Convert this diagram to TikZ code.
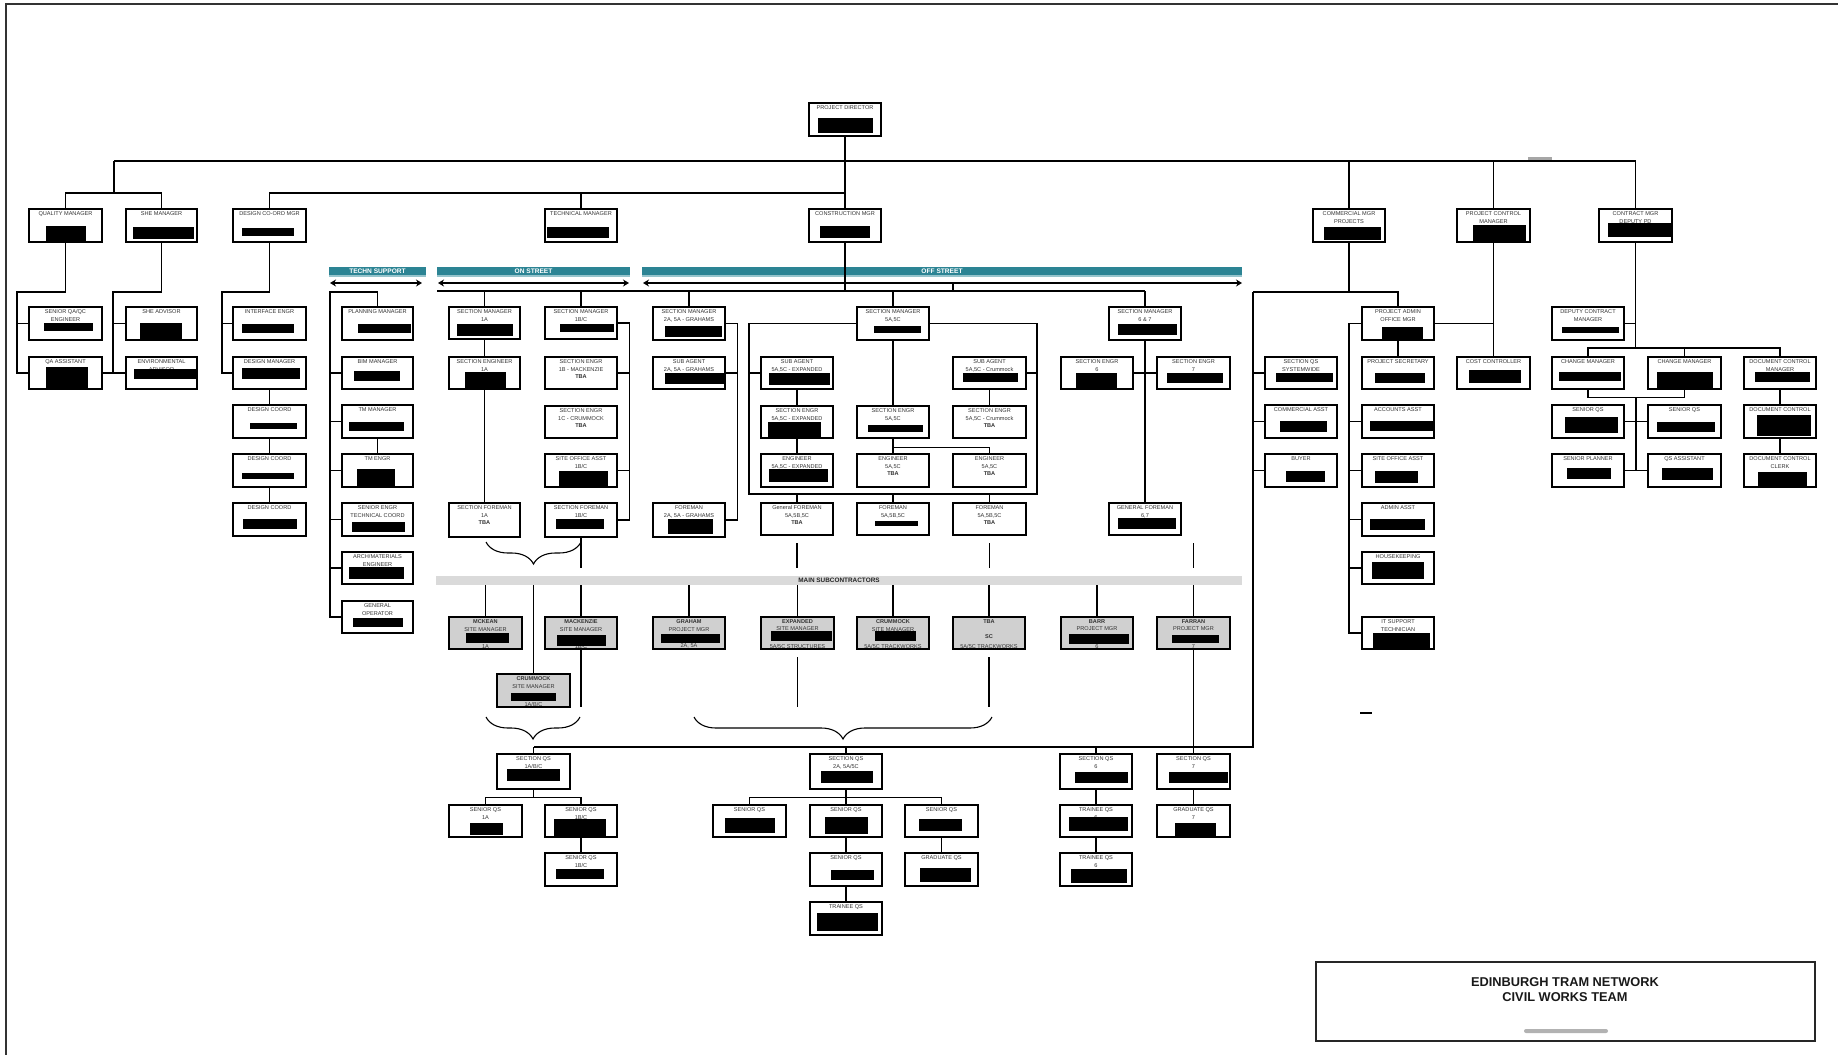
\documentclass[tikz,border=0pt]{standalone}
\usepackage{fontspec}
\setmainfont{Liberation Sans}
\usetikzlibrary{fit,arrows.meta,decorations.pathreplacing}
\definecolor{barteal}{RGB}{44,132,148}
\definecolor{barteallt}{RGB}{150,196,204}
\definecolor{subgray}{RGB}{208,208,208}
\definecolor{msgray}{RGB}{218,218,218}
\tikzset{
  obox/.style={draw=black, line width=0.7pt, fill=white, inner sep=0pt},
  sbox/.style={draw=black, line width=0.7pt, fill=subgray, inner sep=0pt},
  otxt/.style={font=\fontsize{2.8}{3.9}\selectfont, align=center, inner sep=0pt, text=black!80},
  conn/.style={line width=0.55pt, black},
  tealbar/.style={fill=barteal, inner sep=0pt},
  bartxt/.style={inner sep=0pt, text=white, font=\bfseries\fontsize{3.3}{4}\selectfont},
  subbar/.style={fill=msgray, inner sep=0pt},
  subtxt/.style={inner sep=0pt, text=black!85, font=\bfseries\fontsize{3.2}{4}\selectfont},
  dbl/.style={line width=0.6pt, {Stealth[length=3pt,width=3.5pt]}-{Stealth[length=3pt,width=3.5pt]}},
  curly/.style={line width=0.55pt, decorate, decoration={brace, amplitude=11pt}}
}
\newcommand\ob[6]{%
  \node[obox, fit={(#2,#3) (#4,#5)}] (#1) {};
  \node[otxt, anchor=north, yshift=-1.3pt] at (#1.north) {#6};}
\newcommand\sbx[7]{%
  \node[sbox, fit={(#2,#3) (#4,#5)}] (#1) {};
  \node[otxt, anchor=north, yshift=-1.3pt] at (#1.north) {#6};
  \node[otxt, anchor=south, yshift=0.4pt] at (#1.south) {#7};}
\newcommand\rd[4]{\fill[black] (#1,#2) rectangle (#3,#4);}
\begin{document}
\begin{tikzpicture}[x=0.5pt,y=-0.5pt]
\useasboundingbox (0,0) rectangle (1838,1055);
\fill[white] (0,0) rectangle (1838,1055);
% page frame
\draw[line width=0.8pt, black!80] (6,1055) -- (6,4) -- (1838,4);

% row coordinates
\coordinate (r161) at (0,161);
\coordinate (r193) at (0,193);
\coordinate (r568) at (0,568);
\coordinate (r707) at (0,707);
\coordinate (r657) at (0,657);

% ---------- bars ----------
\fill[barteallt] (329,274) rectangle (426,277);
\fill[barteallt] (437,274) rectangle (630,277);
\fill[barteallt] (642,274) rectangle (1242,277);
\node[tealbar, fit={(329,267) (426,275)}] (bts) {};
\node[tealbar, fit={(437,267) (630,275)}] (bon) {};
\node[tealbar, fit={(642,267) (1242,275)}] (bof) {};
\node[bartxt] at (bts.center) {TECHN SUPPORT};
\node[bartxt] at (bon.center) {ON STREET};
\node[bartxt] at (bof.center) {OFF STREET};
\draw[dbl] (330,283) -- (422,283);
\draw[dbl] (438,283) -- (629,283);
\draw[dbl] (643,283) -- (1242,283);
\node[subbar, fit={(436,576) (1242,585)}] (msb) {};
\node[subtxt] at (msb.center) {MAIN SUBCONTRACTORS};

% ---------- top ----------
\ob{pd}{809}{103}{881}{136}{PROJECT DIRECTOR} \rd{818}{118}{873}{133}
\ob{qm}{29}{209}{102}{242}{QUALITY MANAGER} \rd{46}{226}{86}{242}
\ob{sm}{126}{209}{197}{242}{SHE MANAGER} \rd{133}{227}{194}{239}
\ob{dgm}{233}{209}{306}{242}{DESIGN CO-ORD MGR} \rd{242}{228}{294}{236}
\ob{tmg}{545}{209}{617}{242}{TECHNICAL MANAGER} \rd{547}{227}{609}{238}
\ob{cm}{809}{209}{881}{242}{CONSTRUCTION MGR} \rd{820}{226}{870}{238}
\ob{com}{1313}{209}{1385}{242}{COMMERCIAL MGR\\PROJECTS} \rd{1324}{227}{1381}{240}
\ob{pcm}{1457}{209}{1530}{242}{PROJECT CONTROL\\MANAGER} \rd{1473}{225}{1526}{242}
\ob{cn}{1599}{209}{1672}{242}{CONTRACT MGR\\DEPUTY PD} \rd{1608}{223}{1671}{237}

% ---------- left groups ----------
\ob{qa1}{29}{307}{102}{340}{SENIOR QA/QC\\ENGINEER} \rd{44}{323}{93}{331}
\ob{qa2}{29}{357}{102}{389}{QA ASSISTANT} \rd{46}{367}{88}{389}
\ob{sa1}{126}{307}{197}{340}{SHE ADVISOR} \rd{140}{323}{182}{340}
\ob{sa2}{126}{357}{197}{389}{ENVIRONMENTAL\\ADVISOR} \rd{134}{369}{197}{379}
\ob{ie}{233}{307}{306}{340}{INTERFACE ENGR} \rd{242}{324}{294}{333}
\ob{dm}{233}{357}{306}{389}{DESIGN MANAGER} \rd{242}{368}{300}{379}
\ob{dc1}{233}{405}{306}{438}{DESIGN COORD} \rd{250}{423}{297}{429}
\ob{dc2}{233}{454}{306}{487}{DESIGN COORD} \rd{242}{473}{294}{479}
\ob{dc3}{233}{503}{306}{536}{DESIGN COORD} \rd{243}{519}{297}{529}

% ---------- techn support ----------
\ob{pl}{342}{307}{413}{340}{PLANNING MANAGER} \rd{358}{324}{411}{333}
\ob{bim}{342}{357}{413}{389}{BIM MANAGER} \rd{354}{371}{400}{381}
\ob{tmm}{342}{405}{413}{438}{TM MANAGER} \rd{349}{422}{404}{431}
\ob{tme}{342}{454}{413}{487}{TM ENGR} \rd{357}{469}{395}{487}
\ob{se}{342}{503}{413}{536}{SENIOR ENGR\\TECHNICAL COORD} \rd{352}{522}{405}{532}
\ob{ae}{342}{552}{413}{584}{ARCH/MATERIALS\\ENGINEER} \rd{349}{567}{404}{579}
\ob{go}{342}{601}{413}{633}{GENERAL\\OPERATOR} \rd{353}{618}{403}{627}

% ---------- on street ----------
\ob{s1m}{449}{307}{520}{339}{SECTION MANAGER\\1A} \rd{457}{324}{513}{336}
\ob{s1e}{449}{357}{520}{389}{SECTION ENGINEER\\1A} \rd{465}{372}{506}{389}
\ob{s1f}{449}{503}{520}{537}{SECTION FOREMAN\\1A\\\textbf{TBA}}
\ob{s1bm}{545}{307}{617}{339}{SECTION MANAGER\\1B/C} \rd{560}{324}{614}{332}
\ob{s1be}{545}{357}{617}{389}{SECTION ENGR\\1B - MACKENZIE\\\textbf{TBA}}
\ob{s1ce}{545}{406}{617}{438}{SECTION ENGR\\1C - CRUMMOCK\\\textbf{TBA}}
\ob{s1so}{545}{454}{617}{487}{SITE OFFICE ASST\\1B/C} \rd{559}{471}{608}{487}
\ob{s1bf}{545}{503}{617}{537}{SECTION FOREMAN\\1B/C} \rd{556}{519}{604}{529}

% ---------- off street ----------
\ob{s2m}{653}{307}{725}{340}{SECTION MANAGER\\2A, 5A - GRAHAMS} \rd{665}{326}{722}{337}
\ob{s2a}{653}{357}{725}{389}{SUB AGENT\\2A, 5A - GRAHAMS} \rd{665}{373}{724}{384}
\ob{s2f}{653}{503}{725}{537}{FOREMAN\\2A, 5A - GRAHAMS} \rd{668}{519}{713}{534}
\ob{s5m}{857}{307}{929}{340}{SECTION MANAGER\\5A,5C} \rd{874}{326}{921}{333}
\ob{xa}{761}{357}{833}{389}{SUB AGENT\\5A,5C - EXPANDED} \rd{769}{373}{830}{385}
\ob{xe}{761}{406}{833}{438}{SECTION ENGR\\5A,5C - EXPANDED} \rd{768}{422}{821}{438}
\ob{xg}{761}{454}{833}{487}{ENGINEER\\5A,5C - EXPANDED} \rd{769}{469}{828}{482}
\ob{me}{857}{406}{929}{438}{SECTION ENGR\\5A,5C} \rd{868}{425}{923}{432}
\ob{mg}{857}{454}{929}{487}{ENGINEER\\5A,5C\\\textbf{TBA}}
\ob{rg}{953}{454}{1026}{487}{ENGINEER\\5A,5C\\\textbf{TBA}}
\ob{ca}{953}{357}{1026}{389}{SUB AGENT\\5A,5C - Crummock} \rd{963}{373}{1018}{382}
\ob{ce}{953}{406}{1026}{438}{SECTION ENGR\\5A,5C - Crummock\\\textbf{TBA}}
\ob{gf}{761}{503}{833}{535}{General FOREMAN\\5A,5B,5C\\\textbf{TBA}}
\ob{f2}{857}{503}{929}{535}{FOREMAN\\5A,5B,5C} \rd{875}{521}{918}{526}
\ob{f3}{953}{503}{1026}{535}{FOREMAN\\5A,5B,5C\\\textbf{TBA}}
\ob{s6m}{1109}{307}{1181}{340}{SECTION MANAGER\\6 \& 7} \rd{1118}{324}{1177}{335}
\ob{s6e}{1061}{357}{1133}{389}{SECTION ENGR\\6} \rd{1076}{373}{1117}{388}
\ob{s7e}{1157}{357}{1230}{389}{SECTION ENGR\\7} \rd{1167}{373}{1223}{383}
\ob{gf67}{1109}{503}{1181}{535}{GENERAL FOREMAN\\6,7} \rd{1118}{518}{1176}{529}

% ---------- right groups ----------
\ob{pa}{1362}{307}{1434}{340}{PROJECT ADMIN\\OFFICE MGR} \rd{1382}{327}{1423}{339}
\ob{ps}{1362}{357}{1434}{389}{PROJECT SECRETARY} \rd{1375}{373}{1425}{383}
\ob{cc}{1457}{357}{1530}{389}{COST CONTROLLER} \rd{1469}{370}{1521}{383}
\ob{sqs}{1265}{357}{1337}{389}{SECTION QS\\SYSTEMWIDE} \rd{1276}{373}{1333}{382}
\ob{cas}{1265}{405}{1337}{438}{COMMERCIAL ASST} \rd{1280}{421}{1327}{432}
\ob{buy}{1265}{454}{1337}{487}{BUYER} \rd{1286}{471}{1325}{482}
\ob{aa}{1362}{405}{1434}{438}{ACCOUNTS ASST} \rd{1370}{421}{1433}{431}
\ob{soa}{1362}{454}{1434}{487}{SITE OFFICE ASST} \rd{1375}{471}{1418}{483}
\ob{ad}{1362}{503}{1434}{536}{ADMIN ASST} \rd{1370}{519}{1425}{530}
\ob{hk}{1362}{552}{1434}{584}{HOUSEKEEPING} \rd{1372}{562}{1424}{579}
\ob{it}{1362}{617}{1434}{649}{IT SUPPORT\\TECHNICIAN} \rd{1373}{633}{1430}{649}
\ob{dpc}{1552}{307}{1624}{340}{DEPUTY CONTRACT\\MANAGER} \rd{1562}{327}{1619}{333}
\ob{ch1}{1552}{357}{1624}{389}{CHANGE MANAGER} \rd{1559}{372}{1621}{381}
\ob{ch2}{1648}{357}{1721}{389}{CHANGE MANAGER} \rd{1657}{372}{1713}{388}
\ob{dcmg}{1744}{357}{1816}{389}{DOCUMENT CONTROL\\MANAGER} \rd{1755}{372}{1810}{382}
\ob{sq1}{1552}{405}{1624}{438}{SENIOR QS} \rd{1565}{417}{1618}{433}
\ob{sq2}{1648}{405}{1721}{438}{SENIOR QS} \rd{1657}{422}{1715}{432}
\ob{sp}{1552}{454}{1624}{487}{SENIOR PLANNER} \rd{1567}{468}{1611}{479}
\ob{qsa}{1648}{454}{1721}{487}{QS ASSISTANT} \rd{1662}{468}{1713}{480}
\ob{dcg}{1744}{405}{1816}{438}{DOCUMENT CONTROL} \rd{1757}{415}{1811}{436}
\ob{dcc}{1744}{454}{1816}{487}{DOCUMENT CONTROL\\CLERK} \rd{1758}{472}{1807}{487}

% ---------- subcontractors ----------
\sbx{mk}{449}{617}{522}{649}{\textbf{MCKEAN}\\SITE MANAGER}{1A} \rd{466}{633}{509}{643}
\sbx{mz}{545}{617}{617}{649}{\textbf{MACKENZIE}\\SITE MANAGER}{1B/C} \rd{557}{635}{606}{646}
\sbx{gr}{653}{617}{725}{649}{\textbf{GRAHAM}\\PROJECT MGR}{2A, 5A} \rd{661}{634}{720}{643}
\sbx{ex}{761}{617}{834}{649}{\textbf{EXPANDED}\\SITE MANAGER}{5A/5C STRUCTURES} \rd{771}{631}{832}{641}
\sbx{cr}{857}{617}{929}{649}{\textbf{CRUMMOCK}\\SITE MANAGER}{5A/5C TRACKWORKS} \rd{875}{631}{916}{641}
\sbx{tb}{953}{617}{1025}{649}{\textbf{TBA}\\[3.9pt]\textbf{SC}}{5A/5C TRACKWORKS}
\sbx{br}{1061}{617}{1133}{649}{\textbf{BARR}\\PROJECT MGR}{6} \rd{1069}{634}{1129}{644}
\sbx{fr}{1157}{617}{1230}{649}{\textbf{FARRAN}\\PROJECT MGR}{7} \rd{1172}{635}{1219}{643}
\sbx{cr1}{497}{674}{570}{707}{\textbf{CRUMMOCK}\\SITE MANAGER}{1A/B/C} \rd{511}{693}{556}{701}

% ---------- quantity surveyors ----------
\ob{q1}{497}{754}{570}{789}{SECTION QS\\1A/B/C} \rd{507}{769}{560}{781}
\ob{q1a}{449}{805}{522}{837}{SENIOR QS\\1A} \rd{470}{823}{503}{835}
\ob{q1b}{545}{805}{617}{837}{SENIOR QS\\1B/C} \rd{554}{819}{606}{836}
\ob{q1c}{545}{853}{617}{886}{SENIOR QS\\1B/C} \rd{556}{869}{604}{879}
\ob{q25}{810}{754}{882}{789}{SECTION QS\\2A, 5A/5C} \rd{821}{771}{873}{783}
\ob{qa}{713}{805}{786}{837}{SENIOR QS} \rd{725}{818}{775}{833}
\ob{qb}{810}{805}{882}{837}{SENIOR QS} \rd{825}{817}{868}{834}
\ob{qc}{905}{805}{978}{837}{SENIOR QS} \rd{919}{819}{962}{831}
\ob{qd}{810}{853}{882}{886}{SENIOR QS} \rd{831}{870}{874}{880}
\ob{qt}{810}{902}{882}{935}{TRAINEE QS} \rd{817}{913}{878}{931}
\ob{qg}{905}{853}{978}{886}{GRADUATE QS} \rd{920}{868}{971}{882}
\ob{q6}{1060}{754}{1132}{789}{SECTION QS\\6} \rd{1075}{772}{1128}{783}
\ob{q7}{1157}{754}{1230}{789}{SECTION QS\\7} \rd{1169}{772}{1228}{783}
\ob{t6a}{1060}{805}{1132}{837}{TRAINEE QS\\6} \rd{1069}{817}{1128}{831}
\ob{t6b}{1060}{853}{1132}{886}{TRAINEE QS\\6} \rd{1071}{869}{1127}{883}
\ob{g7}{1157}{805}{1230}{837}{GRADUATE QS\\7} \rd{1175}{823}{1216}{837}

% ================= connectors =================
% top level
\coordinate (tbL) at (114,161);
\coordinate (tbR) at (1635.5,161);
\draw[conn] (tbL) -- (tbR);
\draw[conn] (pd.south) -- (cm.north);
\draw[conn] (tbL) -- (tbL |- r193);
\draw[conn] (qm.north) |- (sm.north |- r193) -- (sm.north);
\draw[conn] (dgm.north) |- (cm.north |- r193);
\draw[conn] (tmg.north) -- (tmg.north |- r193);
\draw[conn] (com.north) -- (com.north |- r161);
\draw[conn] (pcm.north) -- (pcm.north |- r161);
\draw[conn] (cn.north) -- (tbR);
\fill[black!35] (1528,157) rectangle (1552,160);

% quality / she / design
\coordinate (qbus) at (17,292);
\draw[conn] (qm.south) |- (qbus) |- (qa2.west);
\draw[conn] (qbus) |- (qa1.west);
\coordinate (sbus) at (113,292);
\draw[conn] (sm.south) |- (sbus) |- (sa2.west);
\draw[conn] (sbus) |- (sa1.west);
\draw[conn] (qa2.east) -- (sa2.west);
\coordinate (dbus) at (222,292);
\draw[conn] (dgm.south) |- (dbus) |- (dm.west);
\draw[conn] (dbus) |- (ie.west);
\draw[conn] (dm.south) -- (dc1.north);
\draw[conn] (dc1.south) -- (dc2.north);
\draw[conn] (dc2.south) -- (dc3.north);

% techn support
\coordinate (tbus) at (330,292);
\draw[conn] (pl.north) |- (tbus) |- (go.west);
\foreach \n in {bim,tmm,tme,se,ae} \draw[conn] (tbus) |- (\n.west);
\draw[conn] (tmm.south) -- (tme.north);

% on / off street bus
\coordinate (obL) at (437,291);
\coordinate (obR) at (1145,291);
\draw[conn] (obL) -- (obR);
\draw[conn] (cm.south) -- (cm.south |- obL);
\coordinate (tk1) at (953,283);
\draw[conn] (tk1) -- (tk1 |- obL);
\foreach \n in {s1m,s1bm,s2m,s5m,s6m} \draw[conn] (\n.north) -- (\n.north |- obL);
\draw[conn] (s1m.south) -- (s1e.north);
\draw[conn] (s1e.south) -- (s1f.north);
\draw[conn] (s1bm.east) -- ++(12,0) |- (s1bf.east);
\draw[conn] (s1be.east) -- ++(12,0);
\draw[conn] (s1so.east) -- ++(12,0);
\draw[conn] (s2m.east) -- ++(12,0) |- (s2f.east);
\draw[conn] (s2a.east) -- ++(12,0);

% section 5 frame
\coordinate (xL) at (749,494);
\coordinate (xR) at (1037,494);
\draw[conn] (s5m.west) -| (xL) -- (xR) |- (s5m.east);
\draw[conn] (xL |- xa.west) -- (xa.west);
\draw[conn] (xR |- ca.east) -- (ca.east);
\draw[conn] (xa.south) -- (xe.north);
\draw[conn] (xe.south) -- (xg.north);
\draw[conn] (s5m.south) -- (me.north);
\draw[conn] (me.south) -- (mg.north);
\draw[conn] (me.south) -- ++(0,9) -| (rg.north);
\draw[conn] (ca.south) -- (ce.north);
\foreach \n in {gf,f2,f3} \draw[conn] (\n.north) -- (\n.north |- xL);

% section 6/7
\draw[conn] (s6m.south) -- (gf67.north);
\draw[conn] (s6e.east) -- (s7e.west);

% lines towards main subcontractors
\coordinate (d1) at (797,543);
\coordinate (d2) at (989.5,543);
\coordinate (d3) at (1193.5,543);
\draw[conn] (s1bf.south) -- (s1bf.south |- r568);
\foreach \n in {d1,d2,d3} \draw[conn] (\n) -- (\n |- r568);
\draw[curly] (581,542) -- (486,542);

\foreach \n in {mk,cr1,mz,gr,ex,cr,tb,br,fr} \draw[conn] (\n.north) -- (\n.north |- msb.south);
\draw[conn] (mz.south) -- (mz.south |- r707);
\draw[conn] (ex.south |- r657) -- (ex.south |- r707);
\draw[conn] (tb.south |- r657) -- (tb.south |- r707);
\draw[conn] (fr.south) -- (q7.north);
\draw[curly] (580,717) -- (486,717);
\draw[curly] (992,717) -- (694,717);
\coordinate (dsh) at (1360,713);
\draw[conn] (dsh) -- ++(12,0);

% commercial
\coordinate (cbus) at (1253,292);
\coordinate (qsbR) at (1253,747);
\coordinate (qsbL) at (533.5,747);
\draw[conn] (com.south) -- (com.south |- cbus);
\draw[conn] (cbus) -| (pa.north);
\draw[conn] (cbus) -- (qsbR) -- (qsbL);
\foreach \n in {sqs,cas,buy} \draw[conn] (cbus |- \n.west) -- (\n.west);
\foreach \n in {q1,q25,q6} \draw[conn] (\n.north) -- (\n.north |- qsbL);

% QS trees
\draw[conn] (q1.south) -- ++(0,8) -| (q1a.north);
\draw[conn] (q1.south) -- ++(0,8) -| (q1b.north);
\draw[conn] (q1b.south) -- (q1c.north);
\draw[conn] (q25.south) -- ++(0,8) -| (qa.north);
\draw[conn] (q25.south) -- ++(0,8) -| (qc.north);
\draw[conn] (q25.south) -- (qb.north);
\draw[conn] (qb.south) -- (qd.north);
\draw[conn] (qd.south) -- (qt.north);
\draw[conn] (qc.south) -- (qg.north);
\draw[conn] (q6.south) -- (t6a.north);
\draw[conn] (t6a.south) -- (t6b.north);
\draw[conn] (q7.south) -- (g7.north);

% admin / project control
\draw[conn] (pcm.south) -- (cc.north);
\draw[conn] (pa.east) -- (pa.east -| pcm.south);
\draw[conn] (pa.south) -- (ps.north);
\coordinate (abus) at (1349,323.5);
\draw[conn] (pa.west) -- (abus) |- (it.west);
\foreach \n in {aa,soa,ad,hk} \draw[conn] (abus |- \n.west) -- (\n.west);

% contract
\coordinate (k348) at (1635.5,348);
\draw[conn] (cn.south) -- (k348);
\draw[conn] (dpc.east) -- (dpc.east -| cn.south);
\draw[conn] (ch1.north) |- (k348) -| (dcmg.north);
\draw[conn] (ch2.north) -- (ch2.north |- k348);
\draw[conn] (ch1.south) -- ++(0,8) -| (ch2.south);
\coordinate (k397) at (1636,397);
\draw[conn] (k397) -- (k397 |- sp.east);
\draw[conn] (sq1.east) -- (sq2.west);
\draw[conn] (sp.east) -- (qsa.west);
\draw[conn] (dcmg.south) -- (dcg.north);
\draw[conn] (dcg.south) -- (dcc.north);

% ---------- title block ----------
\node[draw=black!85, line width=0.6pt, fit={(1316,962) (1815,1041)}, inner sep=0pt] (ttl) {};
\node[font=\bfseries\fontsize{6.4}{7.5}\selectfont, align=center, text=black!90] (ttxt) at (1565,990) {EDINBURGH TRAM NETWORK\\CIVIL WORKS TEAM};
\fill[black!30, rounded corners=1pt] (1524,1029) rectangle (1608,1033);
\end{tikzpicture}
\end{document}
